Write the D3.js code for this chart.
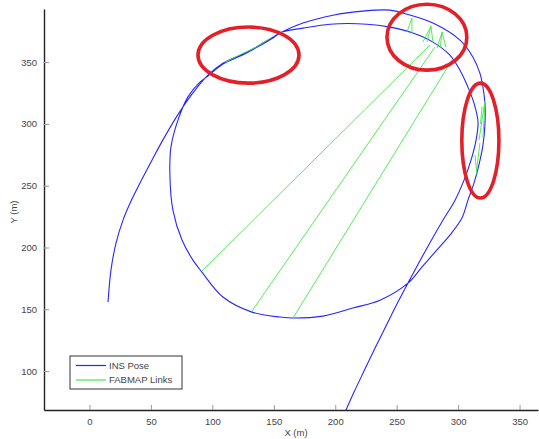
<!DOCTYPE html>
<html>
<head>
<meta charset="utf-8">
<script src="https://cdn.jsdelivr.net/npm/d3@7"></script>
<style>
  html, body { margin: 0; padding: 0; background: #fff; }
  svg { display: block; }
  text { font-family: "Liberation Sans", Arial, sans-serif; }
</style>
</head>
<body>
<svg id="chart" width="539" height="439"></svg>
<script>
// INS pose trajectory (x, y in metres), in driving order
const poseX = [15.1, 17.5, 21.6, 27.3, 34.6, 42.7, 51.7, 60.6, 71.2, 83.4, 96.4, 108.6, 128.2, 149.3, 155.0,
  173.7, 198.1, 222.5, 244.5, 258.3, 279.5, 301.5, 312.1, 317.7, 320.2,
  321.8, 321.8, 320.2, 316.9, 312.9, 308.0, 303.1, 293.3, 281.9, 270.5, 259.2, 236.4, 214.4, 190.0,
  165.6, 155.0, 132.2, 108.6, 91.5, 84.2, 75.3, 67.9, 65.5, 66.3, 72.0, 80.0, 89.9,
  96.4, 108.6, 128.2, 149.3, 156.6,
  173.7, 195.7, 225.8, 244.5, 263.2, 279.5, 293.3, 301.5, 308.0,
  312.9, 316.2, 314.6, 310.5, 304.8, 297.5, 287.7, 273.0, 259.2, 250.2, 241.3, 232.4, 223.4, 215.3, 208.0];
const poseY = [155.8, 181.7, 203.6, 222.2, 239.2, 255.3, 272.3, 288.5, 306.3, 324.1, 339.5, 349.2, 358.1, 370.2, 373.5,
  381.6, 388.0, 391.3, 392.1, 388.8, 381.6, 367.8, 354.0, 341.1, 329.8,
  316.8, 299.0, 282.8, 266.7, 252.1, 238.3, 223.8, 210.0, 197.1, 184.1, 171.2, 157.4, 151.0, 144.5,
  142.9, 143.7, 147.7, 159.9, 180.1, 189.8, 206.0, 230.3, 257.0, 281.2, 303.1, 321.7, 333.8,
  338.7, 348.4, 357.6, 369.6, 374.3,
  377.5, 380.7, 380.7, 378.3, 373.5, 366.2, 355.7, 343.5, 329.8,
  316.8, 301.5, 286.9, 270.7, 254.5, 238.3, 222.2, 196.6, 171.2, 154.2, 136.4, 118.6, 100.0, 83.0, 66.8];

// FABMAP loop-closure links: start and end of each link
const linkX1 = [91.5, 132.2, 165.6,
  110.2, 122.0, 136.0,
  258.3, 262.4, 277.9, 277.9, 277.9, 286.9, 286.9, 286.9,
  321.8, 321.8, 319.5, 317.7, 313.7];
const linkY1 = [180.9, 148.5, 142.9,
  349.8, 355.8, 362.2,
  374.3, 385.6, 379.1, 379.1, 379.1, 374.3, 374.3, 374.3,
  318.4, 318.4, 314.0, 284.5, 274.8];
const linkX2 = [277.1, 281.1, 295.0,
  122.0, 136.0, 148.5,
  262.4, 262.4, 271.3, 279.5, 274.6, 282.8, 290.1, 285.4,
  317.0, 320.2, 318.2, 315.0, 315.4];
const linkY2 = [363.8, 362.1, 351.6,
  355.8, 362.2, 370.2,
  385.6, 373.5, 366.2, 366.2, 366.2, 361.3, 362.1, 361.6,
  286.9, 288.5, 300.0, 262.0, 258.6];

// Highlighted regions (centre and radii in metres)
const ringCX = [129.4, 274.6, 318.1];
const ringCY = [355.7, 370.2, 286.5];
const ringRX = [41.1, 32.5, 15.1];
const ringRY = [22.7, 26.7, 46.5];

const xTicks = [0, 50, 100, 150, 200, 250, 300, 350];
const yTicks = [100, 150, 200, 250, 300, 350];
const legendLabels = ["INS Pose", "FABMAP Links"];

const svg = d3.select("#chart");
const plotLeft = 44, plotRight = 538, plotTop = 9, plotBottom = 410;

const x = d3.scaleLinear().domain([-37, 365]).range([plotLeft, plotRight]);
const y = d3.scaleLinear().domain([68.5, 393]).range([plotBottom, plotTop]);

svg.append("defs").append("clipPath").attr("id", "plotClip")
  .append("rect").attr("x", plotLeft).attr("y", plotTop)
  .attr("width", plotRight - plotLeft).attr("height", plotBottom - plotTop);

const plot = svg.append("g").attr("clip-path", "url(#plotClip)");

const blue = "#2626ff", green = "#44e844";

// trajectory
const pose = poseX.map((d, i) => [d, poseY[i]]);
plot.append("path")
  .datum(pose)
  .attr("fill", "none")
  .attr("stroke", blue)
  .attr("stroke-width", 1.1)
  .attr("stroke-linejoin", "round")
  .attr("d", d3.line().curve(d3.curveCatmullRom.alpha(0.5))
    .x(d => x(d[0])).y(d => y(d[1])));

// links
plot.selectAll("line.link")
  .data(linkX1.map((d, i) => i))
  .join("line")
  .attr("class", "link")
  .attr("x1", i => x(linkX1[i])).attr("y1", i => y(linkY1[i]))
  .attr("x2", i => x(linkX2[i])).attr("y2", i => y(linkY2[i]))
  .attr("stroke", green)
  .attr("stroke-width", 0.9);

// highlight rings
svg.selectAll("ellipse.ring")
  .data(ringCX.map((d, i) => i))
  .join("ellipse")
  .attr("class", "ring")
  .attr("cx", i => x(ringCX[i])).attr("cy", i => y(ringCY[i]))
  .attr("rx", i => x(ringCX[i] + ringRX[i]) - x(ringCX[i]))
  .attr("ry", i => y(ringCY[i]) - y(ringCY[i] + ringRY[i]))
  .attr("fill", "none")
  .attr("stroke", "#e3202a")
  .attr("stroke-width", 3.6);

// axes
const xAxis = d3.axisBottom(x).tickValues(xTicks).tickSizeInner(-5).tickSizeOuter(0).tickPadding(8);
const yAxis = d3.axisLeft(y).tickValues(yTicks).tickSizeInner(-5).tickSizeOuter(0).tickPadding(7);

const gx = svg.append("g").attr("transform", `translate(0,${plotBottom})`).call(xAxis);
const gy = svg.append("g").attr("transform", `translate(${plotLeft},0)`).call(yAxis);

[gx, gy].forEach(g => {
  g.select(".domain").attr("stroke", "#222").attr("stroke-width", 1.4);
  g.selectAll(".tick line").attr("stroke", "#999").attr("stroke-width", 1);
  g.selectAll(".tick text").attr("fill", "#444").attr("font-size", 9.5)
    .attr("font-family", "'Liberation Sans', Arial, sans-serif");
});

svg.append("text")
  .attr("x", 296).attr("y", 436)
  .attr("text-anchor", "middle")
  .attr("font-size", 9.5).attr("fill", "#444")
  .text("X (m)");

svg.append("text")
  .attr("transform", "translate(17,212) rotate(-90)")
  .attr("text-anchor", "middle")
  .attr("font-size", 9.5).attr("fill", "#444")
  .text("Y (m)");

// legend
const lg = svg.append("g").attr("transform", "translate(70,356)");
lg.append("rect").attr("width", 112).attr("height", 33)
  .attr("fill", "#fff").attr("stroke", "#333").attr("stroke-width", 1);
[blue, green].forEach((c, i) => {
  lg.append("line").attr("x1", 6).attr("x2", 36)
    .attr("y1", 9.5 + i * 14.5).attr("y2", 9.5 + i * 14.5)
    .attr("stroke", c).attr("stroke-width", 1.2);
  lg.append("text").attr("x", 39).attr("y", 9.5 + i * 14.5).attr("dy", "0.35em")
    .attr("font-size", 9.5).attr("fill", "#444")
    .text(legendLabels[i]);
});
</script>
</body>
</html>
